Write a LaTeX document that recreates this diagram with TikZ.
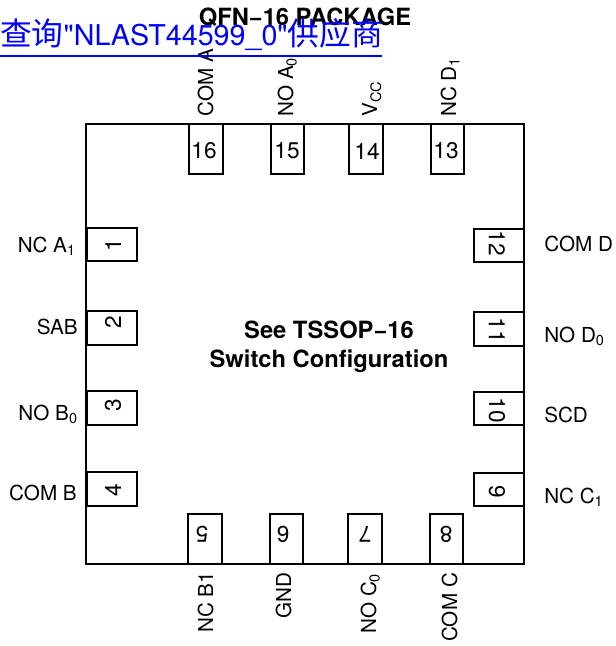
\documentclass[tikz,border=0pt]{standalone}
\usepackage{fontspec}
\setmainfont{TeX Gyre Heros}
\newfontfamily\cjkfont{Noto Sans CJK SC}
\newfontfamily\linkfont{TeX Gyre Heros}
\definecolor{linkblue}{RGB}{0,0,255}
\newcommand{\cjkpart}[1]{{\cjkfont\fontsize{23.8pt}{26pt}\selectfont #1}}
\tikzset{
  x=0.75pt,y=-0.75pt,
  pinbox/.style={draw=black,line width=1.5pt,fill=white,minimum width=25.2pt,minimum height=37.5pt,inner sep=0pt},
  pinnum/.style={inner sep=0pt,font=\fontsize{17pt}{20pt}\selectfont},
  pinlabel/.style={inner sep=0pt,font=\fontsize{15.5pt}{18pt}\selectfont},
  boldtext/.style={inner sep=0pt,font=\bfseries\fontsize{17.8pt}{20pt}\selectfont},
  pkgbody/.style={draw=black,line width=1.6pt,minimum width=328.5pt,minimum height=330pt,inner sep=0pt},
  linktext/.style={inner sep=0pt,text=linkblue,font=\linkfont\fontsize{21.5pt}{26pt}\selectfont}
}
\begin{document}
\begin{tikzpicture}
\useasboundingbox (0,0) rectangle (616,646);
\node[pkgbody] (body) at (305,344) {};
% top pins
\node[pinbox] (p16) at (206,149) {};
\node[pinbox] (p15) at (287.5,149) {};
\node[pinbox] (p14) at (366,149) {};
\node[pinbox] (p13) at (447.5,149) {};
\node[pinnum] (n16) at (204,151) {16};
\node[pinnum] (n15) at (287,151) {15};
\node[pinnum] (n14) at (367,151) {14};
\node[pinnum] (n13) at (446,151) {13};
% left pins
\node[pinbox,rotate=90] (p1) at (111.5,244.5) {};
\node[pinbox,rotate=90] (p2) at (111.5,328) {};
\node[pinbox,rotate=90] (p3) at (111.5,408) {};
\node[pinbox,rotate=90] (p4) at (111.5,489) {};
\node[pinnum,rotate=90] (n1) at (113,245) {1};
\node[pinnum,rotate=90] (n2) at (113,322) {2};
\node[pinnum,rotate=90] (n3) at (113,405) {3};
\node[pinnum,rotate=90] (n4) at (113,490) {4};
% right pins
\node[pinbox,rotate=-90] (p12) at (498.5,245.5) {};
\node[pinbox,rotate=-90] (p11) at (498.5,329) {};
\node[pinbox,rotate=-90] (p10) at (498.5,408.5) {};
\node[pinbox,rotate=-90] (p9) at (498.5,489.5) {};
\node[pinnum,rotate=-90] (n12) at (497,243) {12};
\node[pinnum,rotate=-90] (n11) at (497,330) {11};
\node[pinnum,rotate=-90] (n10) at (497,410) {10};
\node[pinnum,rotate=-90] (n9) at (497,492) {9};
% bottom pins
\node[pinbox,rotate=180] (p5) at (205,538.5) {};
\node[pinbox,rotate=180] (p6) at (286.5,538.5) {};
\node[pinbox,rotate=180] (p7) at (365,538.5) {};
\node[pinbox,rotate=180] (p8) at (446.5,538.5) {};
\node[pinnum,rotate=180] (n5) at (202,534) {5};
\node[pinnum,rotate=180] (n6) at (283,534) {6};
\node[pinnum,rotate=180] (n7) at (365,534) {7};
\node[pinnum,rotate=180] (n8) at (446,534) {8};
% top labels
\node[pinlabel,rotate=90,anchor=base west] (l16) at (213,117) {COM A};
\node[pinlabel,rotate=90,anchor=base west] (l15) at (293,117) {NO A\textsubscript{0}};
\node[pinlabel,rotate=90,anchor=base west] (l14) at (377,117) {V\textsubscript{CC}};
\node[pinlabel,rotate=90,anchor=base west] (l13) at (456,117) {NC D\textsubscript{1}};
% left labels
\node[pinlabel,anchor=base east] (l1) at (76,252) {NC A\textsubscript{1}};
\node[pinlabel,anchor=base east] (l2) at (78,334) {SAB};
\node[pinlabel,anchor=base east] (l3) at (78,420) {NO B\textsubscript{0}};
\node[pinlabel,anchor=base east] (l4) at (77,500) {COM B};
% right labels
\node[pinlabel,anchor=base west] (l12) at (544,251) {COM D};
\node[pinlabel,anchor=base west] (l11) at (544,342) {NO D\textsubscript{0}};
\node[pinlabel,anchor=base west] (l10) at (544,422) {SCD};
\node[pinlabel,anchor=base west] (l9) at (544,503) {NC C\textsubscript{1}};
% bottom labels
\node[pinlabel,rotate=90,anchor=base west] (l5) at (213,633) {NC B1};
\node[pinlabel,rotate=90,anchor=base west] (l6) at (291,619) {GND};
\node[pinlabel,rotate=90,anchor=base west] (l7) at (376,634) {NO C\textsubscript{0}};
\node[pinlabel,rotate=90,anchor=base west] (l8) at (457,642) {COM C};
% centre text and title
\node[boldtext,anchor=base] (c1) at (329,338) {See TSSOP−16};
\node[boldtext,anchor=base] (c2) at (329,367) {Switch Configuration};
\node[boldtext,anchor=base] (title) at (305,25) {QFN−16 PACKAGE};
% link overlay
\node[linktext,anchor=base west] (link) at (0,45) {\cjkpart{查询}"NLAST44599\_0"\cjkpart{供应商}};
\coordinate (ul1) at (0,55.5);
\coordinate (ul2) at (382,55.5);
\draw[linkblue,line width=1.5pt] (ul1) -- (ul2);
\end{tikzpicture}
\end{document}
